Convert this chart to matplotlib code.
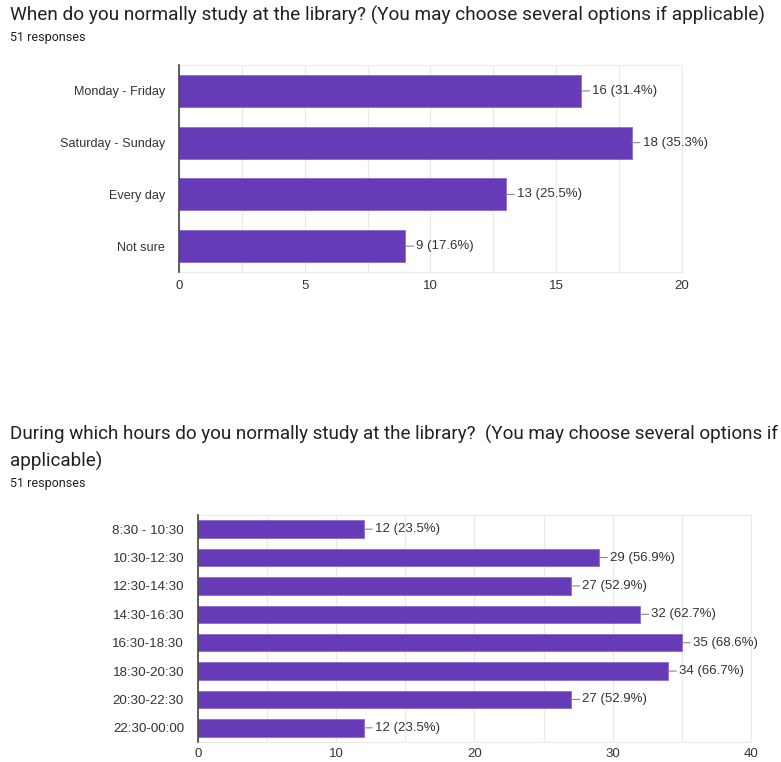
import matplotlib
matplotlib.use('Agg')
import matplotlib.pyplot as plt

# data
days = ['Monday - Friday', 'Saturday - Sunday', 'Every day', 'Not sure']
days_count = [16, 18, 13, 9]
days_pct = ['31.4%', '35.3%', '25.5%', '17.6%']

hours = ['8:30 - 10:30', '10:30-12:30', '12:30-14:30', '14:30-16:30',
         '16:30-18:30', '18:30-20:30', '20:30-22:30', '22:30-00:00']
hours_count = [12, 29, 27, 32, 35, 34, 27, 12]
hours_pct = ['23.5%', '56.9%', '52.9%', '62.7%', '68.6%', '66.7%', '52.9%', '23.5%']

bar_color = '#673ab7'
text_color = '#333333'
grid_color = '#ebebeb'
tick_font = 'Liberation Sans'
title_font = 'Roboto'

fig = plt.figure(figsize=(7.81, 7.62), dpi=100)


def bar_chart(ax, labels, counts, pcts, xmax, major, minor, ylab_size, xpad):
    y = list(range(len(labels)))
    ax.barh(y, counts, height=0.62, color=bar_color, edgecolor='#8c6bd0',
            linewidth=0.6, zorder=3)
    ax.set_ylim(len(labels) - 0.5, -0.5)
    ax.set_xlim(0, xmax)
    ax.set_yticks(y)
    ax.set_yticklabels(labels, fontsize=ylab_size, color=text_color, family=tick_font)
    ticks = [i * major for i in range(int(xmax / major) + 1)]
    ax.set_xticks(ticks)
    ax.set_xticklabels([str(t) for t in ticks], fontsize=9.5, color=text_color,
                       family=tick_font)
    ax.set_xticks([i * minor for i in range(int(xmax / minor) + 1)], minor=True)
    ax.grid(True, axis='x', which='both', color=grid_color, linewidth=1, zorder=0)
    ax.tick_params(axis='both', which='both', length=0)
    ax.tick_params(axis='x', pad=xpad)
    ax.tick_params(axis='y', pad=10)
    for s in ['top', 'right', 'bottom']:
        ax.spines[s].set_color(grid_color)
    ax.spines['left'].set_color('#444444')
    ax.spines['left'].set_linewidth(1.2)
    ax.spines['left'].set_zorder(4)
    for i, (c, p) in enumerate(zip(counts, pcts)):
        ax.annotate(f'{c} ({p})', xy=(c, i), xytext=(8, 0),
                    textcoords='offset points', va='center', ha='left',
                    fontsize=9.5, color=text_color, family=tick_font,
                    arrowprops=dict(arrowstyle='-', color='#888888', lw=0.8,
                                    shrinkA=0, shrinkB=0))


# top chart
ax1 = fig.add_axes([0.2292, 0.643, 0.644, 0.2717])
bar_chart(ax1, days, days_count, days_pct, 20, 5, 2.5, 9.1, 6)

fig.text(10 / 781, 1 - 15 / 762,
         'When do you normally study at the library? (You may choose several options if applicable)',
         fontsize=13.7, family=title_font, color='#202124', va='center', ha='left')
fig.text(10 / 781, 1 - 37 / 762, '51 responses', fontsize=9, family=title_font,
         color='#202124', va='center', ha='left')

# bottom chart
ax2 = fig.add_axes([0.2535, 0.02625, 0.708, 0.2979])
bar_chart(ax2, hours, hours_count, hours_pct, 40, 10, 5, 9.6, 4)

fig.text(10 / 781, 1 - 434 / 762,
         'During which hours do you normally study at the library?  (You may choose several options if',
         fontsize=13.6, family=title_font, color='#202124', va='center', ha='left')
fig.text(10 / 781, 1 - 461 / 762, 'applicable)', fontsize=13.6, family=title_font,
         color='#202124', va='center', ha='left')
fig.text(10 / 781, 1 - 483 / 762, '51 responses', fontsize=9, family=title_font,
         color='#202124', va='center', ha='left')

fig.savefig('out.png', dpi=100)
